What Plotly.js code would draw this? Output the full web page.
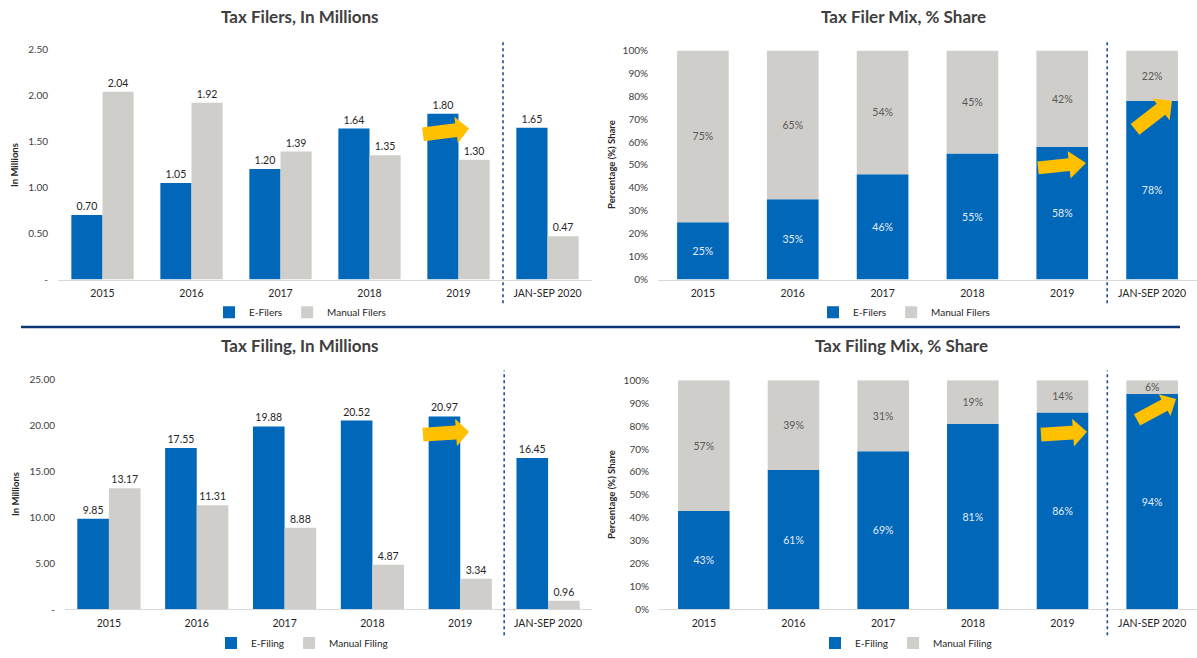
<!DOCTYPE html>
<html>
<head>
<meta charset="utf-8">
<script src="https://cdn.plot.ly/plotly-3.0.1.min.js"></script>
<style>html,body{margin:0;padding:0;background:#fff;}#chart{width:1197px;height:658px;}</style>
</head>
<body>
<div id="chart"></div>
<script>
// ---------- DATA ----------
const categories = ['2015', '2016', '2017', '2018', '2019', 'JAN-SEP 2020'];

const filersE = [0.70, 1.05, 1.20, 1.64, 1.80, 1.65];
const filersManual = [2.04, 1.92, 1.39, 1.35, 1.30, 0.47];

const filerMixE = [25, 35, 46, 55, 58, 78];
const filerMixManual = [75, 65, 54, 45, 42, 22];

const filingE = [9.85, 17.55, 19.88, 20.52, 20.97, 16.45];
const filingManual = [13.17, 11.31, 8.88, 4.87, 3.34, 0.96];

const filingMixE = [43, 61, 69, 81, 86, 94];
const filingMixManual = [57, 39, 31, 19, 14, 6];

const millionTickVals1 = [0, 0.5, 1.0, 1.5, 2.0, 2.5];
const millionTickText1 = ['-', '0.50', '1.00', '1.50', '2.00', '2.50'];
const millionTickVals2 = [0, 5, 10, 15, 20, 25];
const millionTickText2 = ['-', '5.00', '10.00', '15.00', '20.00', '25.00'];
const pctTickVals = [0, 10, 20, 30, 40, 50, 60, 70, 80, 90, 100];
const pctTickText = ['0%', '10%', '20%', '30%', '40%', '50%', '60%', '70%', '80%', '90%', '100%'];

// ---------- STYLE ----------
const W = 1197, H = 658;
const BLUE = '#0067B9';
const GRAY = '#D0CECA';
const YELLOW = '#FFC000';
const NAVY = '#1F4E99';
const FONT = 'Lato, "Open Sans", sans-serif';
const px = x => x / W;
const py = y => 1 - y / H;

function fmt2(v) { return v.toFixed(2); }
function pct(v) { return v + '%'; }

const traces = [];
// Panel 1: Tax Filers, In Millions (grouped)
traces.push({type: 'bar', x: categories, y: filersE, name: 'E-Filers', xaxis: 'x', yaxis: 'y',
  marker: {color: BLUE}, width: 0.35, offset: -0.35, text: filersE.map(fmt2), textposition: 'outside',
  textfont: {family: FONT, size: 10.5, color: '#262626'}, cliponaxis: false, legend: 'legend', hoverinfo: 'none'});
traces.push({type: 'bar', x: categories, y: filersManual, name: 'Manual Filers', xaxis: 'x', yaxis: 'y',
  marker: {color: GRAY}, width: 0.35, offset: 0, text: filersManual.map(fmt2), textposition: 'outside',
  textfont: {family: FONT, size: 10.5, color: '#262626'}, cliponaxis: false, legend: 'legend', hoverinfo: 'none'});

// Panel 2: Tax Filer Mix (stacked via base)
traces.push({type: 'bar', x: categories, y: filerMixE, name: 'E-Filers', xaxis: 'x2', yaxis: 'y2',
  marker: {color: BLUE}, width: 0.575, offset: -0.2875, text: filerMixE.map(pct), textposition: 'inside',
  insidetextanchor: 'middle', constraintext: 'none', textangle: 0,
  textfont: {family: FONT, size: 10.5, color: '#E6ECF5'}, legend: 'legend2', hoverinfo: 'none'});
traces.push({type: 'bar', x: categories, y: filerMixManual, base: filerMixE, name: 'Manual Filers', xaxis: 'x2', yaxis: 'y2',
  marker: {color: GRAY}, width: 0.575, offset: -0.2875, text: filerMixManual.map(pct), textposition: 'inside',
  insidetextanchor: 'middle', constraintext: 'none', textangle: 0,
  textfont: {family: FONT, size: 10.5, color: '#595959'}, legend: 'legend2', hoverinfo: 'none'});

// Panel 3: Tax Filing, In Millions
traces.push({type: 'bar', x: categories, y: filingE, name: 'E-Filing', xaxis: 'x3', yaxis: 'y3',
  marker: {color: BLUE}, width: 0.36, offset: -0.36, text: filingE.map(fmt2), textposition: 'outside',
  textfont: {family: FONT, size: 10.5, color: '#262626'}, cliponaxis: false, legend: 'legend3', hoverinfo: 'none'});
traces.push({type: 'bar', x: categories, y: filingManual, name: 'Manual Filing', xaxis: 'x3', yaxis: 'y3',
  marker: {color: GRAY}, width: 0.36, offset: 0, text: filingManual.map(fmt2), textposition: 'outside',
  textfont: {family: FONT, size: 10.5, color: '#262626'}, cliponaxis: false, legend: 'legend3', hoverinfo: 'none'});

// Panel 4: Tax Filing Mix
traces.push({type: 'bar', x: categories, y: filingMixE, name: 'E-Filing', xaxis: 'x4', yaxis: 'y4',
  marker: {color: BLUE}, width: 0.575, offset: -0.2875, text: filingMixE.map(pct), textposition: 'inside',
  insidetextanchor: 'middle', constraintext: 'none', textangle: 0,
  textfont: {family: FONT, size: 10.5, color: '#E6ECF5'}, legend: 'legend4', hoverinfo: 'none'});
traces.push({type: 'bar', x: categories, y: filingMixManual, base: filingMixE, name: 'Manual Filing', xaxis: 'x4', yaxis: 'y4',
  marker: {color: GRAY}, width: 0.575, offset: -0.2875, text: filingMixManual.map(pct), textposition: 'inside',
  insidetextanchor: 'middle', constraintext: 'none', textangle: 0,
  textfont: {family: FONT, size: 10.5, color: '#595959'}, legend: 'legend4', hoverinfo: 'none'});

function xaxis(d0, d1, anchor) {
  return {domain: [px(d0), px(d1)], anchor: anchor, type: 'category', showgrid: false, zeroline: false,
    showline: true, linecolor: '#D9D9D9', linewidth: 1, ticks: '', fixedrange: true,
    tickfont: {family: FONT, size: 10.5, color: '#262626'}, ticklabelstandoff: 4};
}
function yaxis(top, bottom, anchor, range, vals, text) {
  return {domain: [py(bottom), py(top)], anchor: anchor, range: range, showgrid: false, zeroline: false,
    showline: false, ticks: '', tickmode: 'array', tickvals: vals, ticktext: text, fixedrange: true,
    ticklabelstandoff: 9, tickfont: {family: FONT, size: 10, color: '#404040'}};
}

function arrowPath(tx, ty, hx, hy, sw, hw, hl) {
  const dx = hx - tx, dy = hy - ty, L = Math.hypot(dx, dy);
  const ux = dx / L, uy = dy / L, nx = -uy, ny = ux;
  const bx = hx - ux * hl, by = hy - uy * hl;
  const pts = [
    [tx + nx * sw / 2, ty + ny * sw / 2],
    [bx + nx * sw / 2, by + ny * sw / 2],
    [bx + nx * hw / 2, by + ny * hw / 2],
    [hx, hy],
    [bx - nx * hw / 2, by - ny * hw / 2],
    [bx - nx * sw / 2, by - ny * sw / 2],
    [tx - nx * sw / 2, ty - ny * sw / 2]
  ];
  return 'M ' + pts.map(p => px(p[0]).toFixed(5) + ',' + py(p[1]).toFixed(5)).join(' L ') + ' Z';
}
function arrowShape(tx, ty, hx, hy, sw, hw, hl) {
  return {type: 'path', xref: 'paper', yref: 'paper', path: arrowPath(tx, ty, hx, hy, sw, hw, hl),
    fillcolor: YELLOW, line: {width: 0}, layer: 'above'};
}
function dotted(xref, y0, y1) {
  return {type: 'line', xref: xref, yref: 'paper', x0: 4.5, x1: 4.5, y0: py(y1), y1: py(y0),
    line: {color: NAVY, width: 1.6, dash: 'dot'}};
}
function legendAt(x, y) {
  return {orientation: 'h', x: px(x), y: py(y), xanchor: 'center', yanchor: 'middle',
    font: {family: FONT, size: 10, color: '#262626'}, bgcolor: 'rgba(0,0,0,0)', itemwidth: 30,
    tracegroupgap: 0, itemclick: false, itemdoubleclick: false};
}
function title(text, x, y) {
  return {text: '<b>' + text + '</b>', xref: 'paper', yref: 'paper', x: px(x), y: py(y),
    xanchor: 'center', yanchor: 'middle', showarrow: false,
    font: {family: FONT, size: 17, color: '#404040'}};
}
function ytitle(text, x, y) {
  return {text: '<b>' + text + '</b>', xref: 'paper', yref: 'paper', x: px(x), y: py(y), textangle: -90,
    xanchor: 'center', yanchor: 'middle', showarrow: false,
    font: {family: FONT, size: 9.5, color: '#262626'}};
}

const layout = {
  width: W, height: H, margin: {l: 0, r: 0, t: 0, b: 0}, paper_bgcolor: '#fff', plot_bgcolor: 'rgba(0,0,0,0)',
  barmode: 'overlay', showlegend: true,
  xaxis: xaxis(58, 592, 'y'),
  yaxis: yaxis(50, 283, 'x', [0, 2.5], millionTickVals1, millionTickText1),
  xaxis2: xaxis(658, 1197, 'y2'),
  yaxis2: yaxis(51, 283, 'x2', [0, 100], pctTickVals, pctTickText),
  xaxis3: xaxis(65, 592, 'y3'),
  yaxis3: yaxis(384, 617, 'x3', [0, 25], millionTickVals2, millionTickText2),
  xaxis4: xaxis(659, 1197, 'y4'),
  yaxis4: yaxis(385, 617, 'x4', [0, 100], pctTickVals, pctTickText),
  legend: legendAt(300, 316),
  legend2: legendAt(904, 316),
  legend3: legendAt(302, 651),
  legend4: legendAt(906, 651),
  annotations: [
    title('Tax Filers, In Millions', 300, 17),
    title('Tax Filer Mix, % Share', 903, 17),
    title('Tax Filing, In Millions', 300, 350),
    title('Tax Filing Mix, % Share', 901, 350),
    ytitle('In Millions', 15, 167),
    ytitle('Percentage (%) Share', 612, 167),
    ytitle('In Millions', 16, 500),
    ytitle('Percentage (%) Share', 612, 501)
  ],
  shapes: [
    dotted('x', 40, 307),
    dotted('x2', 40, 307),
    dotted('x3', 375, 643),
    dotted('x4', 375, 643),
    {type: 'line', xref: 'paper', yref: 'paper', x0: px(21), x1: px(1180), y0: py(331), y1: py(331),
      line: {color: '#0D3676', width: 2.5}},
    arrowShape(423, 136, 469, 130, 14, 27, 13),
    arrowShape(1038, 170, 1086, 165, 13, 28, 17),
    arrowShape(1135, 131, 1172, 102, 14, 28, 14),
    arrowShape(423, 440, 469, 437, 14, 28, 13),
    arrowShape(1041, 440, 1087, 437, 14, 28, 14),
    arrowShape(1137, 425, 1176, 404, 13, 25, 13)
  ]
};

Plotly.newPlot('chart', traces, layout, {staticPlot: true, displayModeBar: false});
</script>
</body>
</html>
